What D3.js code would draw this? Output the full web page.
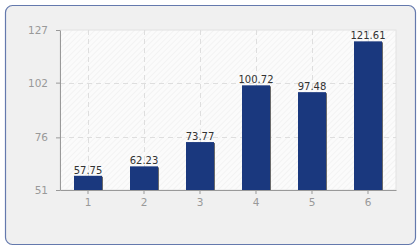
<!DOCTYPE html>
<html>
<head>
<meta charset="utf-8">
<script src="https://cdn.jsdelivr.net/npm/d3@7"></script>
<style>
  body { margin: 0; background: #fff; }
  text { font-family: "DejaVu Sans", sans-serif; }
</style>
</head>
<body>
<script>
// datos del gráfico
var categories = ["1", "2", "3", "4", "5", "6"];
var values = [57.75, 62.23, 73.77, 100.72, 97.48, 121.61];
var yTicks = [51, 76, 102, 127];

const w = 420;
const h = 250;
const m = { left: 60, right: 24, top: 30, bottom: 60 };

var svg = d3.select("body")
    .append("svg")
    .attr("width", w)
    .attr("height", h);

// patrón rayado del fondo del área de trazado
var pat = svg.append("defs").append("pattern")
    .attr("id", "hatch")
    .attr("width", 4)
    .attr("height", 4)
    .attr("patternUnits", "userSpaceOnUse")
    .attr("patternTransform", "rotate(45)");
pat.append("rect").attr("width", 4).attr("height", 4).attr("fill", "#fbfbfb");
pat.append("line")
    .attr("x1", 0).attr("y1", 0).attr("x2", 0).attr("y2", 4)
    .attr("stroke", "#ececec").attr("stroke-width", 1);

// marco exterior
svg.append("rect")
    .attr("x", 5.5).attr("y", 5.5)
    .attr("width", 410).attr("height", 239)
    .attr("rx", 7)
    .attr("fill", "#f0f0f0")
    .attr("stroke", "#6479ad")
    .attr("stroke-width", 1.2);

var x = d3.scaleBand()
    .domain(categories)
    .range([m.left, w - m.right]);

var y = d3.scaleLinear()
    .domain([51, 127])
    .range([h - m.bottom, m.top]);

svg.append("rect")
    .attr("x", m.left).attr("y", m.top)
    .attr("width", w - m.left - m.right)
    .attr("height", h - m.top - m.bottom)
    .attr("fill", "url(#hatch)")
    .attr("stroke", "#e2e2e2");

// rejilla
svg.append("g")
    .selectAll("line")
    .data(yTicks.slice(1, -1))
    .enter()
    .append("line")
    .attr("x1", m.left).attr("x2", w - m.right)
    .attr("y1", d => Math.round(y(d)) + 0.5)
    .attr("y2", d => Math.round(y(d)) + 0.5)
    .attr("stroke", "#dedede")
    .attr("stroke-dasharray", "5,4");

svg.append("g")
    .selectAll("line")
    .data(categories)
    .enter()
    .append("line")
    .attr("x1", d => x(d) + x.bandwidth() / 2 + 0.5)
    .attr("x2", d => x(d) + x.bandwidth() / 2 + 0.5)
    .attr("y1", m.top).attr("y2", h - m.bottom)
    .attr("stroke", "#dedede")
    .attr("stroke-dasharray", "5,4");

// barras (con una pequeña sombra a la derecha)
var bw = 28;
svg.append("g")
    .selectAll("rect")
    .data(values)
    .enter()
    .append("rect")
    .attr("x", (d, i) => x(categories[i]) + x.bandwidth() / 2 - bw / 2 + 1)
    .attr("y", d => y(d) + 1)
    .attr("width", bw)
    .attr("height", d => y(51) - y(d) - 1)
    .attr("fill", "#6a6a6a");

svg.append("g")
    .selectAll("rect")
    .data(values)
    .enter()
    .append("rect")
    .attr("x", (d, i) => x(categories[i]) + x.bandwidth() / 2 - bw / 2)
    .attr("y", d => y(d))
    .attr("width", bw)
    .attr("height", d => y(51) - y(d))
    .attr("fill", "#1a387e");

svg.append("g")
    .selectAll("text")
    .data(values)
    .enter()
    .append("text")
    .text(d => d.toFixed(2))
    .attr("x", (d, i) => x(categories[i]) + x.bandwidth() / 2)
    .attr("y", d => y(d) - 2)
    .attr("text-anchor", "middle")
    .attr("font-size", "10px")
    .attr("fill", "#333");

// ejes
var xAxis = svg.append("g")
    .attr("transform", "translate(0," + (h - m.bottom) + ")")
    .call(d3.axisBottom(x).tickSize(4).tickSizeOuter(0).tickPadding(5));

var yAxis = svg.append("g")
    .attr("transform", "translate(" + m.left + ",0)")
    .call(d3.axisLeft(y).tickValues(yTicks).tickSize(4).tickSizeOuter(0).tickPadding(8));

[xAxis, yAxis].forEach(g => {
    g.select(".domain").attr("stroke", "#999");
    g.selectAll(".tick line").attr("stroke", "#999");
    g.selectAll(".tick text")
        .attr("fill", "#999")
        .attr("font-size", "10.5px")
        .attr("font-family", "DejaVu Sans, sans-serif");
});
</script>
</body>
</html>
